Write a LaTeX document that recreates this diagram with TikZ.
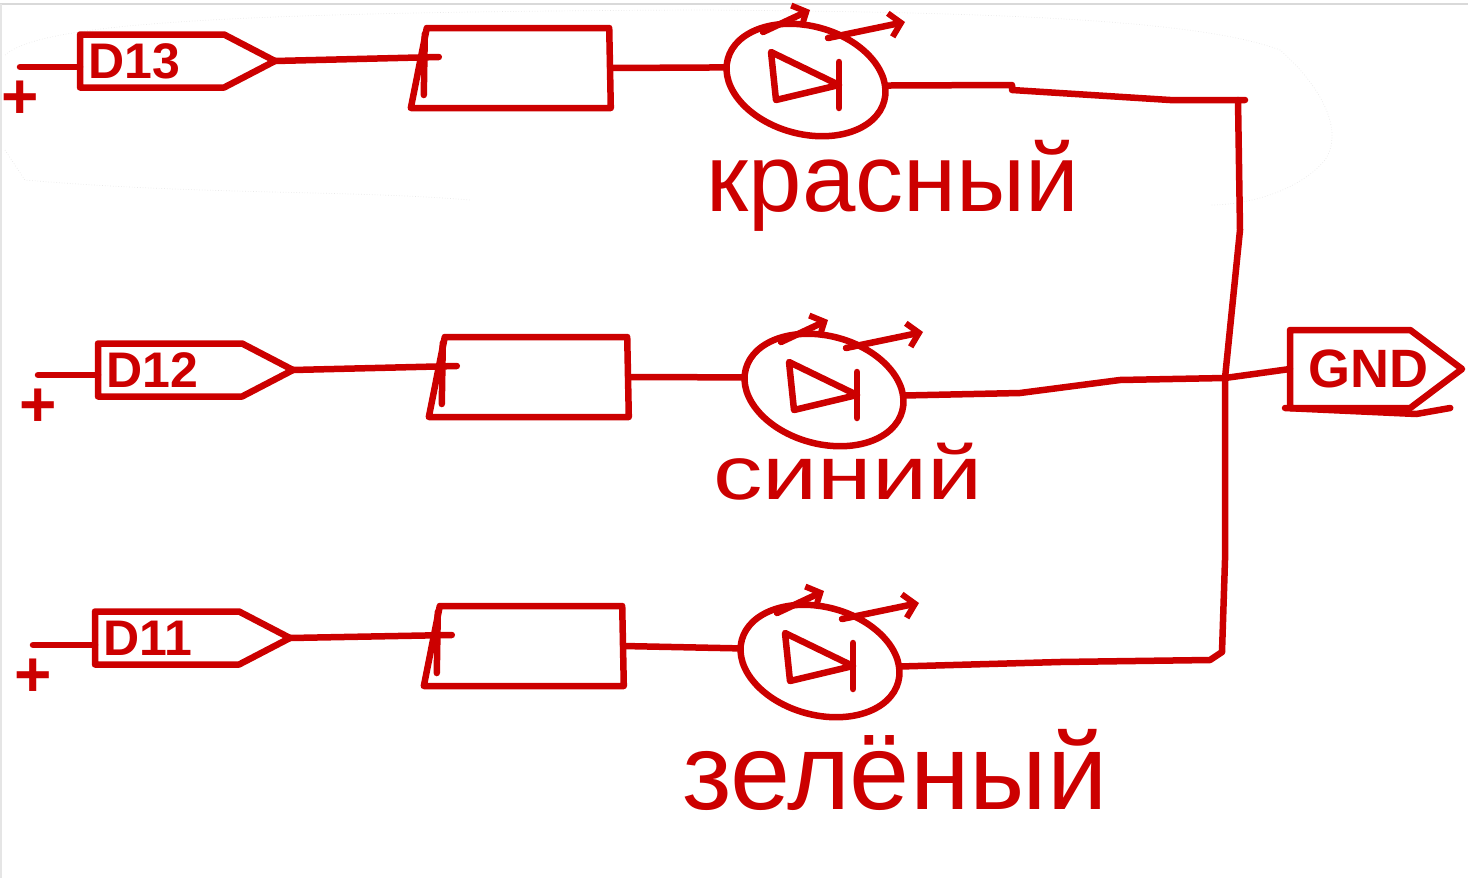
\documentclass[tikz,border=0pt]{standalone}
\usepackage{fontspec}
\setmainfont{Liberation Sans}
\newfontfamily\widefont[FakeStretch=1.3]{Liberation Sans}
\usepackage{xcolor}
\usepackage{tikz}
\usetikzlibrary{calc, arrows.meta, shapes.geometric, shapes.symbols}
\definecolor{sketchred}{HTML}{CC0000}

\tikzset{
  wire/.style={draw=sketchred, line width=6.5pt, line cap=round, line join=round},
  ray/.style={wire, -{Straight Barb[length=11pt, width=24pt, line width=6pt]}},
  pinbox/.style={wire, signal, signal to=east, signal pointer angle=55, anchor=west, minimum width=195pt, minimum height=53pt, inner sep=0pt, outer sep=0pt, text=sketchred, font=\bfseries\fontsize{50}{52}\selectfont},
  resbox/.style={wire, trapezium, trapezium left angle=85, trapezium right angle=89.5, trapezium stretches=true, minimum width=200pt, minimum height=80pt, inner sep=3pt, outer sep=0pt},
  ledbox/.style={wire, ellipse, rotate=-15, minimum width=162pt, minimum height=108pt, inner sep=3pt, outer sep=0pt},
  plustext/.style={text=sketchred, inner sep=0pt, font=\bfseries\fontsize{64}{66}\selectfont},
  colourtext/.style={text=sketchred, inner sep=0pt}
}

\begin{document}
\begin{tikzpicture}[x=1pt, y=-1pt]
    \useasboundingbox (0,0) rectangle (1468,878);

    %% Window edge and faint trace
    \draw [gray!30, line width=2pt] (0,4) -- (1468,4);
    \draw [gray!20, line width=2pt] (1,4) -- (1,878);
    \draw [gray!18, line width=0.7pt, dotted] (5,150) -- (25,180) .. controls (200,195) and (350,190) .. (470,200);
    \draw [gray!18, line width=0.7pt, dotted] (5,55) .. controls (40,25) and (200,12) .. (700,10) .. controls (1000,12) and (1200,20) .. (1280,50) .. controls (1320,85) and (1345,130) .. (1325,160) .. controls (1300,190) and (1250,205) .. (1210,205);

    %% Pins
    \node (pin3) [pinbox] at (80,61) {\hspace*{8pt}\rlap{D13}\hspace{135pt}\null};
    \node (pin2) [pinbox] at (98,370) {\hspace*{8pt}\rlap{D12}\hspace{135pt}\null};
    \node (pin1) [pinbox] at (95,638) {\hspace*{8pt}\rlap{D11}\hspace{135pt}\null};

    %% Plus signs
    \node (plus3) [plustext] at (20,100) {+};
    \node (plus2) [plustext] at (38,408) {+};
    \node (plus1) [plustext] at (33,678) {+};
    \coordinate (lead3) at (20,67);
    \coordinate (lead2) at (38,375);
    \coordinate (lead1) at (33,645);
    \draw [wire] (lead3) -- (pin3.west |- lead3);
    \draw [wire] (lead2) -- (pin2.west |- lead2);
    \draw [wire] (lead1) -- (pin1.west |- lead1);

    %% Resistors
    \node (res3) [resbox] at (518,68) {};
    \node (res2) [resbox] at (536,377) {};
    \node (res1) [resbox] at (531,646) {};
    \draw [wire] (pin3.east) -- ($(res3.west)+(20,-11)$);
    \draw [wire] (pin2.east) -- ($(res2.west)+(20,-11)$);
    \draw [wire] (pin1.east) -- ($(res1.west)+(20,-11)$);
    \draw [wire] ($(res3.top left corner)+(-2,6)$) -- ($(res3.top left corner)+(-3,67)$);
    \draw [wire] ($(res2.top left corner)+(-2,6)$) -- ($(res2.top left corner)+(-3,67)$);
    \draw [wire] ($(res1.top left corner)+(-2,6)$) -- ($(res1.top left corner)+(-3,67)$);

    %% LEDs
    \node (led3) [ledbox] at (806,80) {};
    \node (led2) [ledbox] at (824,390) {};
    \node (led1) [ledbox] at (820,661) {};
    \draw [wire] (res3.east) -- (led3.186);
    \draw [wire] (res2.east) -- (led2.186);
    \draw [wire] (res1.east) -- (led1.186);

    %% Diode symbols
    \draw [wire] ($(led3)+(-35,-28)$) -- ($(led3)+(33,5)$) -- ($(led3)+(-30,20)$) -- cycle;
    \draw [wire] ($(led2)+(-35,-28)$) -- ($(led2)+(33,5)$) -- ($(led2)+(-30,20)$) -- cycle;
    \draw [wire] ($(led1)+(-35,-28)$) -- ($(led1)+(33,5)$) -- ($(led1)+(-30,20)$) -- cycle;
    \draw [wire] ($(led3)+(33,-18)$) -- ($(led3)+(33,28)$);
    \draw [wire] ($(led2)+(33,-18)$) -- ($(led2)+(33,28)$);
    \draw [wire] ($(led1)+(33,-18)$) -- ($(led1)+(33,28)$);

    %% Light rays
    \draw [ray] ($(led3)+(-43,-48)$) -- ($(led3)+(4,-70)$);
    \draw [ray] ($(led3)+(22,-42)$) -- ($(led3)+(99,-58)$);
    \draw [ray] ($(led2)+(-43,-48)$) -- ($(led2)+(4,-70)$);
    \draw [ray] ($(led2)+(22,-42)$) -- ($(led2)+(99,-58)$);
    \draw [ray] ($(led1)+(-43,-48)$) -- ($(led1)+(4,-70)$);
    \draw [ray] ($(led1)+(22,-42)$) -- ($(led1)+(99,-58)$);

    %% Colour names
    \node (red) [colourtext, font=\fontsize{96}{100}\selectfont] at (893,186) {красный};
    \node (blue) [colourtext, font=\widefont\fontsize{76}{80}\selectfont] at (848,472) {синий};
    \node (green) [colourtext, font=\fontsize{108}{110}\selectfont] at (895,770) {зелёный};

    %% Ground
    \node (gnd) [wire, signal, signal to=east, signal pointer angle=74, anchor=west, minimum width=172pt, minimum height=78pt, inner sep=0pt, outer sep=0pt, text=sketchred, font=\bfseries\fontsize{54}{56}\selectfont] at (1290,369) {\hspace*{18pt}\rlap{GND}\hspace{102pt}\null};
    \draw [wire] ($(gnd.south west)+(-5,0)$) -- ($(gnd.south east)+(6,6)$) -- ($(gnd.south east)+(40,0)$);

    %% Common return
    \coordinate (bus3) at (1245,100);
    \coordinate (bus2) at (1225,378);
    \coordinate (bus1) at (1222,652);
    \draw [wire] (led3.11) -- (1012,85) -- (1012,90) -- (1170,100) -- (bus3);
    \draw [wire] (led2.11) -- (1020,393) -- (1120,380) -- (bus2) -- (gnd.west);
    \draw [wire] (led1.11) -- (1060,662) -- (1210,660) -- (bus1);
    \draw [wire] (1238,100) -- (1240,230) -- (bus2) -- (1225,560) -- (bus1);

\end{tikzpicture}
\end{document}
